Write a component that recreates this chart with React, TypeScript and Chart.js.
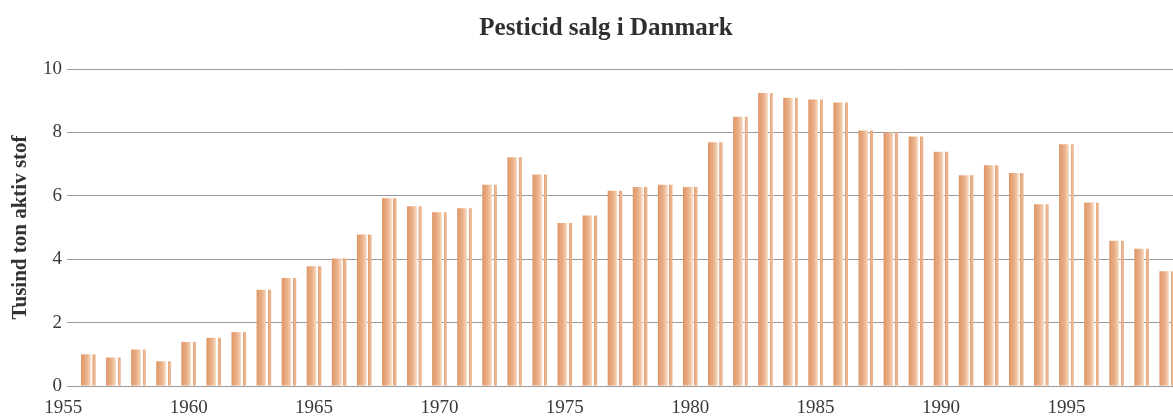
import React, { useEffect, useRef } from 'react';
import { Chart, registerables } from 'chart.js';

Chart.register(...registerables);

const YEARS = [
  1956, 1957, 1958, 1959, 1960, 1961, 1962, 1963, 1964, 1965, 1966, 1967, 1968,
  1969, 1970, 1971, 1972, 1973, 1974, 1975, 1976, 1977, 1978, 1979, 1980, 1981,
  1982, 1983, 1984, 1985, 1986, 1987, 1988, 1989, 1990, 1991, 1992, 1993, 1994,
  1995, 1996, 1997, 1998, 1999,
];
const SALES = [
  1.0, 0.9, 1.15, 0.78, 1.39, 1.52, 1.7, 3.04, 3.41, 3.78, 4.02, 4.78, 5.92,
  5.67, 5.48, 5.61, 6.35, 7.22, 6.67, 5.14, 5.38, 6.16, 6.28, 6.35, 6.28, 7.69,
  8.49, 9.24, 9.09, 9.04, 8.94, 8.06, 8.0, 7.87, 7.39, 6.65, 6.96, 6.72, 5.73,
  7.63, 5.79, 4.58, 4.33, 3.62,
];
const X_TICKS = [1955, 1960, 1965, 1970, 1975, 1980, 1985, 1990, 1995];
const Y_TICKS = [0, 2, 4, 6, 8, 10];
const TITLE = 'Pesticid salg i Danmark';
const Y_TITLE = 'Tusind ton aktiv stof';

const BAR_RATIO = 0.58;
const SERIF = '"Liberation Serif", "Times New Roman", serif';

function barFill(ctx: any) {
  const chart = ctx.chart;
  if (ctx.type !== 'data' || !chart.chartArea || !chart.scales.x) return '#e8aa80';
  const xs = chart.scales.x;
  const year = YEARS[ctx.dataIndex];
  const cx = xs.getPixelForValue(year);
  const w = (xs.getPixelForValue(year + 1) - cx) * BAR_RATIO;
  const x0 = cx - w / 2;
  const g = chart.ctx.createLinearGradient(x0, 0, x0 + w, 0);
  g.addColorStop(0.0, '#d98e5e');
  g.addColorStop(0.07, '#e19c6e');
  g.addColorStop(0.35, '#e9ae86');
  g.addColorStop(0.55, '#f2c9a9');
  g.addColorStop(0.665, '#f9e3d0');
  g.addColorStop(0.68, 'rgba(255,255,255,0)');
  g.addColorStop(0.78, 'rgba(255,255,255,0)');
  g.addColorStop(0.79, '#e4a276');
  g.addColorStop(0.92, '#edb893');
  g.addColorStop(1.0, '#e7aa80');
  return g;
}

const topTitle = {
  id: 'topTitle',
  afterDraw(chart: any) {
    const c = chart.ctx;
    c.save();
    c.font = `bold 25px ${SERIF}`;
    c.fillStyle = '#2f2f2f';
    c.textAlign = 'center';
    c.textBaseline = 'alphabetic';
    c.fillText(TITLE, 606, 35);
    c.restore();
  },
};

export default function App() {
  const ref = useRef<HTMLCanvasElement>(null);

  useEffect(() => {
    if (!ref.current) return;
    const chart = new Chart(ref.current, {
      type: 'bar',
      data: {
        datasets: [
          {
            data: YEARS.map((x, i) => ({ x, y: SALES[i] })),
            backgroundColor: barFill,
            borderWidth: 0,
            barPercentage: BAR_RATIO,
            categoryPercentage: 1,
          } as any,
        ],
      },
      options: {
        animation: false,
        responsive: true,
        maintainAspectRatio: false,
        layout: { padding: { top: 69, right: 0, bottom: 0, left: 0 } },
        plugins: {
          legend: { display: false },
          tooltip: { enabled: false },
          title: { display: false },
        },
        scales: {
          x: {
            type: 'linear',
            min: 1955.15,
            max: 1999.25,
            offset: false,
            grid: { display: false, offset: false },
            border: { display: false },
            afterBuildTicks: (s: any) => {
              s.ticks = X_TICKS.map((v) => ({ value: v }));
            },
            afterFit: (s: any) => {
              s.height = 30;
            },
            ticks: {
              autoSkip: false,
              maxRotation: 0,
              padding: 3,
              color: '#3a3a3a',
              font: { family: SERIF, size: 19 },
              callback: (v: any) => String(v),
            },
          },
          y: {
            type: 'linear',
            min: 0,
            max: 10,
            afterBuildTicks: (s: any) => {
              s.ticks = Y_TICKS.map((v) => ({ value: v }));
            },
            afterFit: (s: any) => {
              s.width = 67;
            },
            grid: { color: '#9a9a9a', lineWidth: 1, drawTicks: false },
            border: { display: false },
            ticks: {
              padding: 5,
              color: '#3a3a3a',
              font: { family: SERIF, size: 19 },
              callback: (v: any) => String(v),
            },
            title: {
              display: true,
              text: Y_TITLE,
              color: '#333333',
              font: { family: SERIF, size: 21, weight: 'bold' },
              padding: { top: 8, bottom: 0 },
            },
          },
        },
      } as any,
      plugins: [topTitle],
    });
    return () => chart.destroy();
  }, []);

  return (
    <div
      style={{
        position: 'fixed',
        left: 0,
        top: 0,
        width: 1173,
        height: 416,
        background: '#ffffff',
        overflow: 'hidden',
      }}
    >
      <canvas ref={ref} />
    </div>
  );
}
